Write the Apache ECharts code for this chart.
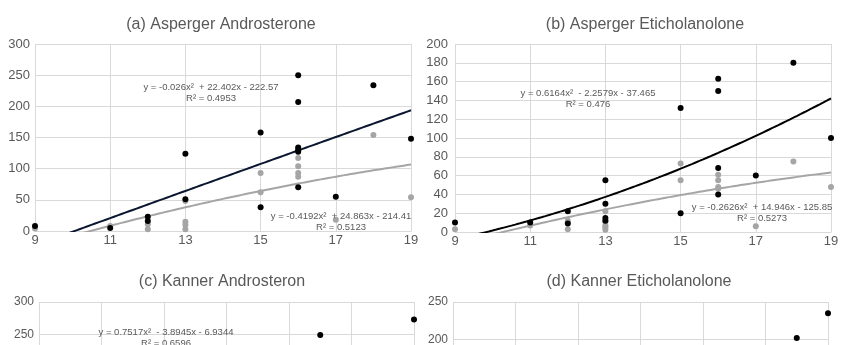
<!DOCTYPE html>
<html>
<head>
<meta charset="utf-8">
<script src="https://cdn.jsdelivr.net/npm/echarts@6/dist/echarts.min.js"></script>
<style>
  html, body { margin: 0; padding: 0; background: #fff; }
  #chart { width: 850px; height: 345px; }
</style>
</head>
<body>
<div id="chart"></div>
<script>
// Panel titles
const panelTitles = ['(a) Asperger Androsterone', '(b) Asperger Eticholanolone', '(c) Kanner Androsteron', '(d) Kanner Eticholanolone'];

// Age (x) ranges and value (y) ranges per panel
const xRanges = [[9, 19], [9, 19], [8, 20], [8, 20]];
const yRanges = [[0, 300, 50], [0, 200, 20], [0, 300, 50], [0, 250, 50]];

// (a) Asperger androsterone: [age, value]
const aBlack = [[9, 8], [11, 5], [12, 23], [12, 16], [13, 124], [13, 51], [15, 158], [15, 38], [16, 250], [16, 207], [16, 134], [16, 130], [16, 127], [16, 70], [17, 55], [18, 234], [19, 148]];
const aGray = [[9, 4], [11, 8], [12, 11], [12, 3], [13, 48], [13, 15], [13, 10], [13, 3], [15, 93], [15, 62], [16, 117], [16, 104], [16, 93], [16, 87], [17, 18], [18, 154], [19, 54]];

// (b) Asperger eticholanolone
const bBlack = [[9, 10], [11, 10], [12, 22], [12, 9], [13, 55], [13, 30], [13, 15], [13, 12], [15, 132], [15, 20], [16, 163], [16, 150], [16, 68], [16, 40], [17, 60], [18, 180], [19, 100]];
const bGray = [[9, 3], [11, 7], [12, 12], [12, 3], [13, 22], [13, 11], [13, 7], [13, 5], [13, 2.5], [15, 73], [15, 55], [16, 61], [16, 55], [16, 48], [16, 46], [17, 6], [18, 75], [19, 48]];

// (c) / (d) Kanner (upper part of the plots)
const cBlack = [[17, 249], [20, 273]];
const dBlack = [[19, 202], [20, 235]];

// Polynomial trendline coefficients [a, b, c] for y = a x^2 + b x + c
const aBlackFit = [-0.026, 22.402, -222.57];
const aGrayFit = [-0.4192, 24.863, -214.41];
const bBlackFit = [0.6164, -2.2579, -37.465];
const bGrayFit = [-0.2626, 14.946, -125.85];
const cBlackFit = [0.7517, -3.8945, -6.9344];

// Trendline label texts
const aBlackEq = ['y = -0.026x\u00B2  + 22.402x - 222.57', 'R\u00B2 = 0.4953'];
const aGrayEq = ['y = -0.4192x\u00B2  + 24.863x - 214.41', 'R\u00B2 = 0.5123'];
const bBlackEq = ['y = 0.6164x\u00B2  - 2.2579x - 37.465', 'R\u00B2 = 0.476'];
const bGrayEq = ['y = -0.2626x\u00B2  + 14.946x - 125.85', 'R\u00B2 = 0.5273'];
const cBlackEq = ['y = 0.7517x\u00B2  - 3.8945x - 6.9344', 'R\u00B2 = 0.6596'];

const FONT = '"Liberation Sans", Arial, sans-serif';
const TXT = '#595959';
const GRID_LINE = '#d9d9d9';
const BLACK = '#000000';
const GRAY = '#a5a5a5';

function curve(coef, range) {
  const pts = [];
  const steps = 200;
  for (let i = 0; i <= steps; i++) {
    const x = range[0] + (range[1] - range[0]) * i / steps;
    pts.push([x, coef[0] * x * x + coef[1] * x + coef[2]]);
  }
  return pts;
}

// Lower panels continue past the bottom edge of the page
const grids = [
  { left: 35, top: 44, width: 376, height: 187 },
  { left: 455, top: 44, width: 376, height: 188 },
  { left: 39, top: 302, width: 375, height: 194 },
  { left: 453, top: 302, width: 375, height: 187 }
].map(g => Object.assign({ outerBoundsMode: 'none', containLabel: false }, g));

const xAxes = xRanges.map((r, i) => ({
  type: 'value', gridIndex: i, min: r[0], max: r[1], interval: 2,
  axisLine: { show: true, lineStyle: { color: GRID_LINE } },
  axisTick: { show: false },
  splitLine: { show: true, lineStyle: { color: GRID_LINE, width: 1 } },
  axisLabel: { color: TXT, fontFamily: FONT, fontSize: 13, margin: 3 }
}));

const yAxes = yRanges.map((r, i) => ({
  type: 'value', gridIndex: i, min: r[0], max: r[1], interval: r[2],
  axisLine: { show: false },
  axisTick: { show: false },
  splitLine: { show: true, lineStyle: { color: GRID_LINE, width: 1 } },
  axisLabel: { color: TXT, fontFamily: FONT, fontSize: i < 2 ? 13 : 12, margin: i === 1 ? 7 : 5 }
}));

function scatter(data, idx, color) {
  return {
    type: 'scatter', xAxisIndex: idx, yAxisIndex: idx, data: data,
    symbolSize: 6, itemStyle: { color: color, opacity: 1 }, z: 5, silent: true
  };
}
function trend(coef, idx, color) {
  return {
    type: 'line', xAxisIndex: idx, yAxisIndex: idx, data: curve(coef, xRanges[idx]),
    showSymbol: false, clip: true, lineStyle: { color: color, width: 2 }, z: 3, silent: true
  };
}

function eqText(lines, x, y) {
  return lines.map((t, k) => ({
    type: 'text', x: x, y: y + k * 11,
    style: { text: t, fill: TXT, font: '9.5px ' + FONT, textAlign: 'center', textVerticalAlign: 'middle' },
    z: 10
  }));
}

const option = {
  backgroundColor: '#ffffff',
  animation: false,
  title: [
    { text: panelTitles[0], left: 216, top: 20 },
    { text: panelTitles[1], left: 640, top: 20 },
    { text: panelTitles[2], left: 217, top: 277 },
    { text: panelTitles[3], left: 634, top: 277 }
  ].map(t => ({
    text: t.text, left: t.left, top: t.top, textAlign: 'center', textVerticalAlign: 'middle',
    textStyle: { color: TXT, fontFamily: FONT, fontSize: 16, fontWeight: 'normal' }
  })),
  grid: grids,
  xAxis: xAxes,
  yAxis: yAxes,
  series: [
    trend(aBlackFit, 0, '#0b1630'),
    trend(aGrayFit, 0, GRAY),
    scatter(aGray, 0, GRAY),
    scatter(aBlack, 0, BLACK),
    trend(bBlackFit, 1, BLACK),
    trend(bGrayFit, 1, GRAY),
    scatter(bGray, 1, GRAY),
    scatter(bBlack, 1, BLACK),
    trend(cBlackFit, 2, BLACK),
    scatter(cBlack, 2, BLACK),
    scatter(dBlack, 3, BLACK)
  ],
  graphic: [].concat(
    eqText(aBlackEq, 211, 87),
    eqText(aGrayEq, 341, 216),
    eqText(bBlackEq, 588, 93),
    eqText(bGrayEq, 762, 207),
    eqText(cBlackEq, 166, 332)
  )
};

const chart = echarts.init(document.getElementById('chart'), null, { renderer: 'canvas' });
chart.setOption(option);
</script>
</body>
</html>
